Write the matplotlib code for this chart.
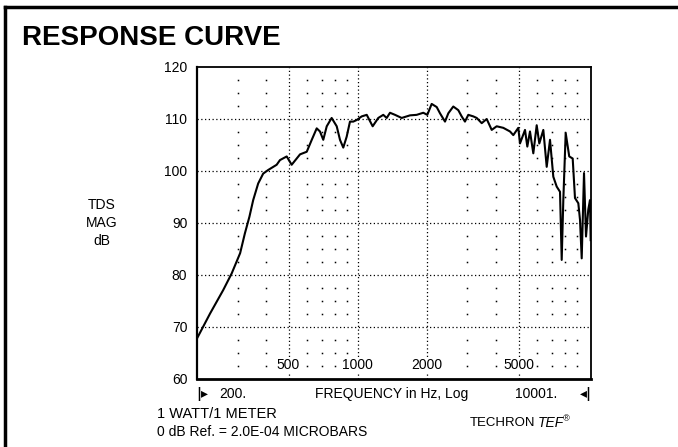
import numpy as np
import matplotlib
matplotlib.use("Agg")
import matplotlib.pyplot as plt
from matplotlib.lines import Line2D

plt.rcParams['font.family'] = ['Liberation Sans', 'DejaVu Sans']

# response curve (Hz, dB)
freq = [200, 228, 260, 283, 308, 323, 338, 351, 369, 388, 408, 444, 459, 491, 516,
        561, 600, 631, 663, 685, 708, 733, 770, 810, 837, 865, 895, 925, 956, 989,
        1040, 1094, 1161, 1228, 1291, 1336, 1381, 1452, 1552, 1687, 1804, 1927, 2006,
        2096, 2204, 2278, 2395, 2476, 2602, 2736, 2830, 2925, 3024, 3180, 3290, 3459,
        3636, 3823, 4018, 4293, 4592, 4745, 4989, 5074, 5335, 5460, 5608, 5798, 5998,
        6157, 6409, 6630, 6853, 7083, 7328, 7574, 7704, 7829, 8018, 8308, 8600, 8800,
        9098, 9254, 9412, 9632, 9826, 10054, 10226, 10298]
mag = [67.8, 72.6, 77.1, 80.3, 84.2, 88.0, 91.2, 94.4, 97.6, 99.5, 100.2, 101.2, 102.1, 102.8, 101.2,
       103.2, 103.7, 106.0, 108.2, 107.6, 106.0, 108.6, 110.2, 108.6, 106.0, 104.5, 106.6, 109.5, 109.5, 109.8,
       110.5, 110.8, 108.6, 110.2, 110.8, 110.2, 111.2, 110.8, 110.2, 110.7, 110.8, 111.2, 110.8,
       112.9, 112.3, 111.1, 109.5, 111.1, 112.4, 111.7, 110.5, 109.5, 110.8, 110.5, 110.2, 109.2,
       110.0, 107.9, 108.6, 108.3, 107.6, 106.9, 108.3, 105.3, 107.9, 104.7, 107.6, 103.4, 108.8,
       105.3, 107.9, 100.8, 106.0, 98.9, 97.0, 96.0, 82.9, 94.4, 107.3, 102.8, 102.4, 94.8,
       93.8, 90.6, 83.2, 99.6, 87.4, 92.6, 94.4, 86.7]

y_ticks = [60, 70, 80, 90, 100, 110, 120]
major_freqs = [500, 1000, 2000, 5000]
freq_labels = ["500", "1000", "2000", "5000"]
minor_freqs = [300, 400, 600, 700, 800, 900, 3000, 4000, 6000, 7000, 8000, 9000]

W, H = 678, 447
fig = plt.figure(figsize=(W / 100, H / 100), dpi=100)
ax = fig.add_axes([197 / W, 1 - 379 / H, (591 - 197) / W, (379 - 67) / H])

ax.set_xscale('log')
ax.set_xlim(200, 10330)
ax.set_ylim(60, 120)
ax.set_xticks([])
ax.set_xticks([], minor=True)
ax.set_yticks(y_ticks)
ax.tick_params(axis='y', length=0, pad=7, labelsize=10)

for s in ax.spines.values():
    s.set_linewidth(1.3)
ax.spines['bottom'].set_linewidth(2)
ax.spines['left'].set_linewidth(1.6)

# dotted grid
for yv in y_ticks[1:-1]:
    ax.axhline(yv, color='k', lw=0.9, ls=(0, (1, 2)), zorder=1)
for fv in major_freqs:
    ax.axvline(fv, color='k', lw=0.9, ls=(0, (1, 2)), zorder=1)
dot_rows = [v for v in np.arange(62.5, 120, 2.5) if v % 10 != 0]
for fv in minor_freqs:
    ax.plot([fv] * len(dot_rows), dot_rows, ls='none', marker='s', ms=1.1,
            mec='none', color='k', zorder=1)

for fv, lab in zip(major_freqs, freq_labels):
    ax.text(fv, 62.7, lab, ha='center', va='center', fontsize=10,
            bbox=dict(facecolor='white', edgecolor='none', pad=1), zorder=2)

ax.plot(freq, mag, color='k', lw=1.5, zorder=3)

# outer frame (left and top only)
fig.add_artist(Line2D([5 / W, 5 / W], [0, 1 - 7 / H], color='k', lw=2.5))
fig.add_artist(Line2D([5 / W, 1], [1 - 7 / H, 1 - 7 / H], color='k', lw=2.5))

def ft(px, py, s, **kw):
    fig.text(px / W, 1 - py / H, s, **kw)

ft(22, 38, "RESPONSE CURVE", fontsize=20, fontweight='bold', va='center')
ft(102, 223, "TDS\nMAG\ndB", fontsize=10, ha='center', va='center', linespacing=1.35)

ft(196, 394, "|\u25b8", fontsize=10, va='center', fontweight='bold', family=['DejaVu Sans'])
ft(219, 394, "200.", fontsize=10, va='center')
ft(392, 394, "FREQUENCY in Hz, Log", fontsize=10, ha='center', va='center')
ft(536, 394, "10001.", fontsize=10, ha='center', va='center')
ft(580, 394, "\u25c2|", fontsize=10, va='center', fontweight='bold', family=['DejaVu Sans'])

ft(157, 414, "1 WATT/1 METER", fontsize=10.5, va='center')
ft(157, 432, "0 dB Ref. = 2.0E-04 MICROBARS", fontsize=10, va='center')
ft(535, 423, "TECHRON", fontsize=9.5, ha='right', va='center')
ft(538, 423, "TEF", fontsize=10, va='center', style='italic')
ft(563, 419, "\u00ae", fontsize=6.5, va='center', style='italic')

fig.savefig("out.png", dpi=100)
